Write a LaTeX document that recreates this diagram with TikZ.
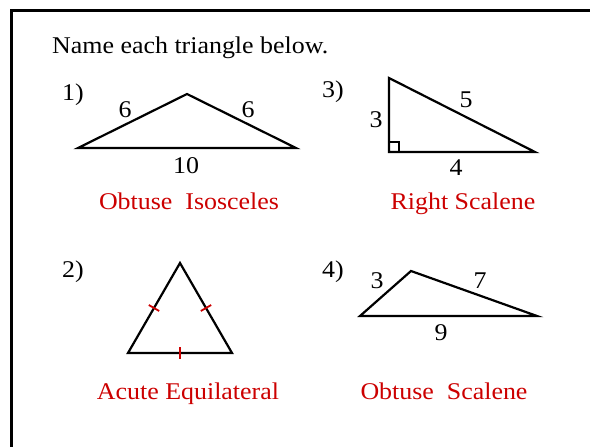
\documentclass[tikz,border=0pt]{standalone}
\usepackage{fontspec}
\setmainfont[FakeStretch=1.08]{Liberation Serif}
\usetikzlibrary{calc}
\definecolor{ansred}{RGB}{204,0,0}
\tikzset{
  lbl/.style={inner sep=0pt, anchor=base, font=\fontsize{24}{28}\selectfont},
  num/.style={inner sep=0pt, anchor=base west, font=\fontsize{24}{28}\selectfont},
  answer/.style={inner sep=0pt, anchor=base, text=ansred, font=\fontsize{24}{28}\selectfont},
  tri/.style={line width=2.2pt, line join=miter},
  tick/.style={draw=ansred, line width=1.8pt},
  frame/.style={line width=3pt}
}
\begin{document}
\begin{tikzpicture}[x=1pt,y=-1pt]
\useasboundingbox (0,0) rectangle (590,447);
% frame
\coordinate (f1) at (11.5,447);
\coordinate (f2) at (11.5,10.7);
\coordinate (f3) at (590,10.7);
\draw[frame] (f1) -- (f2) -- (f3);
% title
\node[num] (title) at (52,53) {Name each triangle below.};
% triangle 1
\coordinate (a1) at (78,148);
\coordinate (a2) at (187,94);
\coordinate (a3) at (296,148);
\draw[tri] (a1) -- (a2) -- (a3) -- cycle;
\node[num] (n1) at (62,100) {1)};
\node[lbl] (l1a) at (125,117) {6};
\node[lbl] (l1b) at (248,117) {6};
\node[lbl] (l1c) at (186,173) {10};
\node[answer] (ans1) at (189,209) {Obtuse\ \ Isosceles};
% triangle 3
\coordinate (b1) at (389,78);
\coordinate (b2) at (389,152);
\coordinate (b3) at (535,152);
\draw[tri] (b1) -- (b2) -- (b3) -- cycle;
\coordinate (r1) at (389,142);
\coordinate (r2) at (399,142);
\coordinate (r3) at (399,152);
\draw[line width=1.1pt] (r1) -- (r2) -- (r3);
\node[num] (n3) at (322,97) {3)};
\node[lbl] (l3a) at (376,127) {3};
\node[lbl] (l3b) at (466,107) {5};
\node[lbl] (l3c) at (456,175) {4};
\node[answer] (ans3) at (463,209) {Right Scalene};
% triangle 2
\coordinate (c1) at (180,263);
\coordinate (c2) at (128,353);
\coordinate (c3) at (232,353);
\draw[tri] (c1) -- (c2) -- (c3) -- cycle;
\draw[tick] ($ (c1)!0.5!(c2) $) ++(-5.2,-3) -- ++(10.4,6);
\draw[tick] ($ (c1)!0.5!(c3) $) ++(5.2,-3) -- ++(-10.4,6);
\draw[tick] ($ (c2)!0.5!(c3) $) ++(0,-6) -- ++(0,12);
\node[num] (n2) at (62,277) {2)};
\node[answer] (ans2) at (188,399) {Acute Equilateral};
% triangle 4
\coordinate (d1) at (360,316);
\coordinate (d2) at (411,271);
\coordinate (d3) at (537,316);
\draw[tri] (d1) -- (d2) -- (d3) -- cycle;
\node[num] (n4) at (322,277) {4)};
\node[lbl] (l4a) at (377,288) {3};
\node[lbl] (l4b) at (480,288) {7};
\node[lbl] (l4c) at (441,340) {9};
\node[answer] (ans4) at (444,399) {Obtuse\ \ Scalene};
\end{tikzpicture}
\end{document}
